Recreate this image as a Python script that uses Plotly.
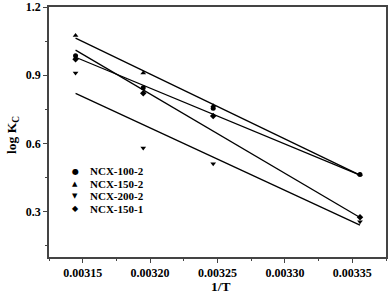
import plotly.graph_objects as go

inv_T = [0.0031447, 0.0031949, 0.0032468, 0.0033557]
series_names = ["NCX-100-2", "NCX-150-2", "NCX-200-2", "NCX-150-1"]
ncx_100_2 = [0.985, 0.845, 0.755, 0.463]
ncx_150_2 = [1.075, 0.910, 0.765, 0.463]
ncx_200_2 = [0.910, 0.580, 0.510, 0.255]
ncx_150_1 = [0.970, 0.820, 0.720, 0.275]

fit_x = [0.0031447, 0.0033557]
fit_100_2 = [0.979, 0.460]
fit_150_2 = [1.063, 0.460]
fit_200_2 = [0.820, 0.240]
fit_150_1 = [1.010, 0.274]

x_ticks = [0.00315, 0.0032, 0.00325, 0.0033, 0.00335]
x_tick_labels = ["0.00315", "0.00320", "0.00325", "0.00330", "0.00335"]
y_ticks = [0.3, 0.6, 0.9, 1.2]
y_tick_labels = ["0.3", "0.6", "0.9", "1.2"]

symbols = ["circle", "triangle-up", "triangle-down", "diamond"]
glyphs = ["●", "▲", "▼", "◆"]
data = [ncx_100_2, ncx_150_2, ncx_200_2, ncx_150_1]
fits = [fit_100_2, fit_150_2, fit_200_2, fit_150_1]

font_family = "Liberation Serif, Times New Roman, serif"
fig = go.Figure()
for f in fits:
    fig.add_trace(go.Scatter(x=fit_x, y=f, mode="lines", showlegend=False,
                             line=dict(color="black", width=1.3), hoverinfo="skip"))
for name, ys, sym in zip(series_names, data, symbols):
    fig.add_trace(go.Scatter(x=inv_T, y=ys, mode="markers", name=name, showlegend=False,
                             marker=dict(symbol=sym, size=5, color="black")))

axis_common = dict(showline=True, linecolor="#444", linewidth=1.5, mirror=True,
                   ticks="outside", tickcolor="#444", ticklen=4, tickwidth=1.2,
                   showgrid=False, zeroline=False,
                   tickfont=dict(family=font_family, size=12, color="black"))
fig.update_xaxes(range=[0.003125, 0.003375], tickvals=x_ticks,
                 ticktext=["<b>%s</b>" % t for t in x_tick_labels],
                 minor=dict(dtick=0.000025, tick0=0.003125, ticks="outside", ticklen=2.5, tickcolor="#444"),
                 **axis_common)
fig.update_yaxes(range=[0.1, 1.2], tickvals=y_ticks,
                 ticktext=["<b>%s</b>" % t for t in y_tick_labels],
                 minor=dict(dtick=0.15, tick0=0.0, ticks="outside", ticklen=2.5, tickcolor="#444"),
                 **axis_common)

L, R, T, B, W, H = 49, 6, 7, 38, 392, 295
pw, ph = W - L - R, H - T - B

def px(xp):
    return (xp - L) / pw

def py(yp):
    return (H - B - yp) / ph

annotations = [
    dict(text="<b>1/T</b>", x=px(221), y=py(286), xref="paper", yref="paper",
         showarrow=False, font=dict(family=font_family, size=13.5, color="black"),
         xanchor="center", yanchor="middle"),
    dict(text="<b>log K<sub>C</sub></b>", x=px(12), y=py(135), xref="paper", yref="paper",
         showarrow=False, textangle=-90, font=dict(family=font_family, size=13.5, color="black"),
         xanchor="center", yanchor="middle"),
]
legend_y = [171, 183.5, 196, 208.5]
glyph_sizes = [8, 7, 7, 8]
for name, g, gy, gs in zip(series_names, glyphs, legend_y, glyph_sizes):
    annotations.append(dict(text=g, x=px(75), y=py(gy), xref="paper", yref="paper",
                            showarrow=False, font=dict(family="DejaVu Sans", size=gs, color="black"),
                            xanchor="center", yanchor="middle"))
    annotations.append(dict(text="<b>%s</b>" % name, x=px(88), y=py(gy), xref="paper", yref="paper",
                            showarrow=False, font=dict(family=font_family, size=11, color="black"),
                            xanchor="left", yanchor="middle"))

fig.update_layout(
    width=W, height=H,
    margin=dict(l=L, r=R, t=T, b=B, autoexpand=False),
    plot_bgcolor="white", paper_bgcolor="white",
    font=dict(family=font_family, color="black"),
    showlegend=False,
    annotations=annotations,
)
fig.write_html("out.html", config={"displayModeBar": False},
               post_script="document.body.style.margin='0';document.body.style.padding='0';document.documentElement.style.overflow='hidden';")
